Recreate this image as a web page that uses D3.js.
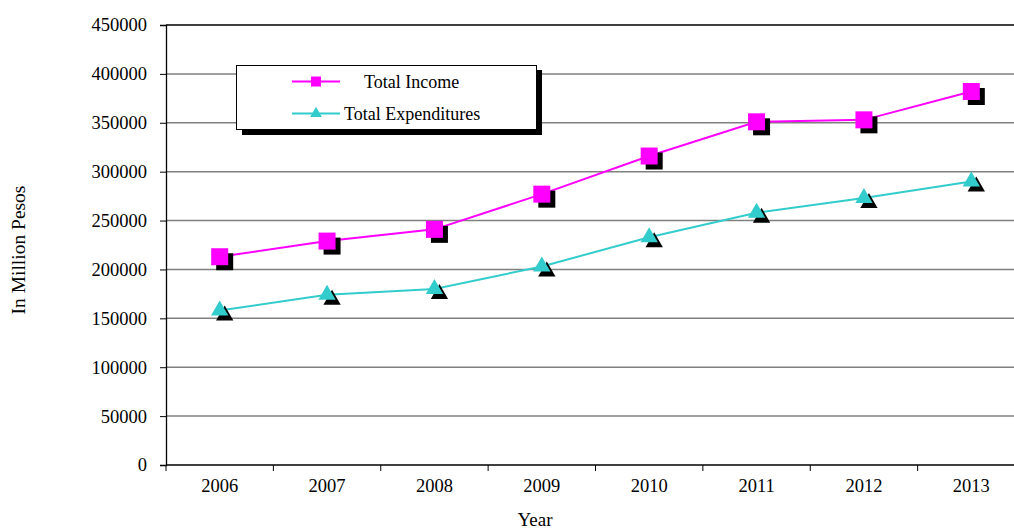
<!DOCTYPE html>
<html>
<head>
<meta charset="utf-8">
<script src="https://cdn.jsdelivr.net/npm/d3@7.9.0/dist/d3.min.js"></script>
<style>
  html, body { margin: 0; padding: 0; background: #fff; }
  svg { display: block; font-family: "Liberation Serif", serif; }
</style>
</head>
<body>
<svg id="chart"></svg>
<script>
// chart values
const years = ["2006", "2007", "2008", "2009", "2010", "2011", "2012", "2013"];
const income = [213000, 229000, 241000, 277000, 316000, 351000, 353000, 382000];
const expenditures = [158000, 174000, 180000, 203000, 233000, 258000, 273000, 290000];
const yTicks = [0, 50000, 100000, 150000, 200000, 250000, 300000, 350000, 400000, 450000];
const seriesNames = ["Total Income", "Total Expenditures"];

const W = 1014, H = 532;
const plot = { left: 166, top: 25, right: 1025, bottom: 465 };

const svg = d3.select("#chart").attr("width", W).attr("height", H);

const x = d3.scaleBand().domain(years).range([plot.left, plot.right]);
const y = d3.scaleLinear().domain([0, 450000]).range([plot.bottom, plot.top]);

// gridlines
svg.append("g")
  .selectAll("line")
  .data(yTicks.filter(d => d > 0))
  .join("line")
  .attr("x1", plot.left).attr("x2", plot.right)
  .attr("y1", d => y(d)).attr("y2", d => y(d))
  .attr("stroke", d => d === 450000 ? "#000" : "#808080")
  .attr("stroke-width", d => d === 450000 ? 1.3 : 1.5);

// y axis
const yAxis = svg.append("g")
  .attr("transform", `translate(${plot.left},0)`)
  .call(d3.axisLeft(y).tickValues(yTicks).tickFormat(d3.format("d")).tickSize(6).tickPadding(13));
yAxis.attr("font-family", "Liberation Serif");
yAxis.select(".domain").attr("stroke", "#000").attr("stroke-width", 1.3);
yAxis.selectAll("text").attr("font-size", 18.5).attr("fill", "#000");

// x axis
const xAxis = svg.append("g")
  .attr("transform", `translate(0,${plot.bottom})`)
  .call(d3.axisBottom(x).tickSize(0).tickPadding(14));
xAxis.attr("font-family", "Liberation Serif");
xAxis.select(".domain").remove();
xAxis.selectAll("text").attr("font-size", 18.5).attr("fill", "#000");
svg.append("line")
  .attr("x1", plot.left).attr("x2", plot.right)
  .attr("y1", plot.bottom).attr("y2", plot.bottom)
  .attr("stroke", "#000").attr("stroke-width", 1.5);
svg.append("g")
  .selectAll("line")
  .data(years)
  .join("line")
  .attr("x1", d => x(d)).attr("x2", d => x(d))
  .attr("y1", plot.bottom).attr("y2", plot.bottom + 6)
  .attr("stroke", "#000");

// axis titles
svg.append("text")
  .attr("x", 535).attr("y", 526)
  .attr("text-anchor", "middle")
  .attr("font-size", 19)
  .text("Year");
svg.append("text")
  .attr("transform", "translate(25,250) rotate(-90)")
  .attr("text-anchor", "middle")
  .attr("font-size", 19.5)
  .text("In Million Pesos");

// series
const series = [
  { name: seriesNames[0], values: income, color: "#ff00ff", symbol: d3.symbolSquare, size: 289 },
  { name: seriesNames[1], values: expenditures, color: "#33cccc", symbol: d3.symbolTriangle, size: 130 }
];

const cx = d => x(d.year) + x.bandwidth() / 2;
const line = d3.line().x(cx).y(d => y(d.value));

series.forEach(s => {
  const pts = years.map((yr, i) => ({ year: yr, value: s.values[i] }));
  svg.append("path")
    .datum(pts)
    .attr("fill", "none")
    .attr("stroke", s.color)
    .attr("stroke-width", 2)
    .attr("d", line);
  const sym = d3.symbol().type(s.symbol).size(s.size);
  svg.append("g").selectAll("path")
    .data(pts)
    .join("path")
    .attr("d", sym)
    .attr("transform", d => `translate(${cx(d) + 5},${y(d.value) + 5})`)
    .attr("fill", "#000");
  svg.append("g").selectAll("path")
    .data(pts)
    .join("path")
    .attr("d", sym)
    .attr("transform", d => `translate(${cx(d)},${y(d.value)})`)
    .attr("fill", s.color);
});

// legend
const lg = svg.append("g");
lg.append("rect").attr("x", 242).attr("y", 70).attr("width", 300).attr("height", 65).attr("fill", "#000");
lg.append("rect").attr("x", 236.5).attr("y", 65.5).attr("width", 300).attr("height", 64)
  .attr("fill", "#fff").attr("stroke", "#000").attr("stroke-width", 1);
const legendRows = [
  { s: series[0], y: 81.5, tx: 364, size: 100 },
  { s: series[1], y: 113.5, tx: 344, size: 60 }
];
legendRows.forEach(r => {
  lg.append("line")
    .attr("x1", 292).attr("x2", 340)
    .attr("y1", r.y).attr("y2", r.y)
    .attr("stroke", r.s.color).attr("stroke-width", 2);
  lg.append("path")
    .attr("d", d3.symbol().type(r.s.symbol).size(r.size))
    .attr("transform", `translate(316,${r.y})`)
    .attr("fill", r.s.color);
  lg.append("text")
    .attr("x", r.tx).attr("y", r.y + 6)
    .attr("font-size", 18)
    .text(r.s.name);
});
</script>
</body>
</html>
